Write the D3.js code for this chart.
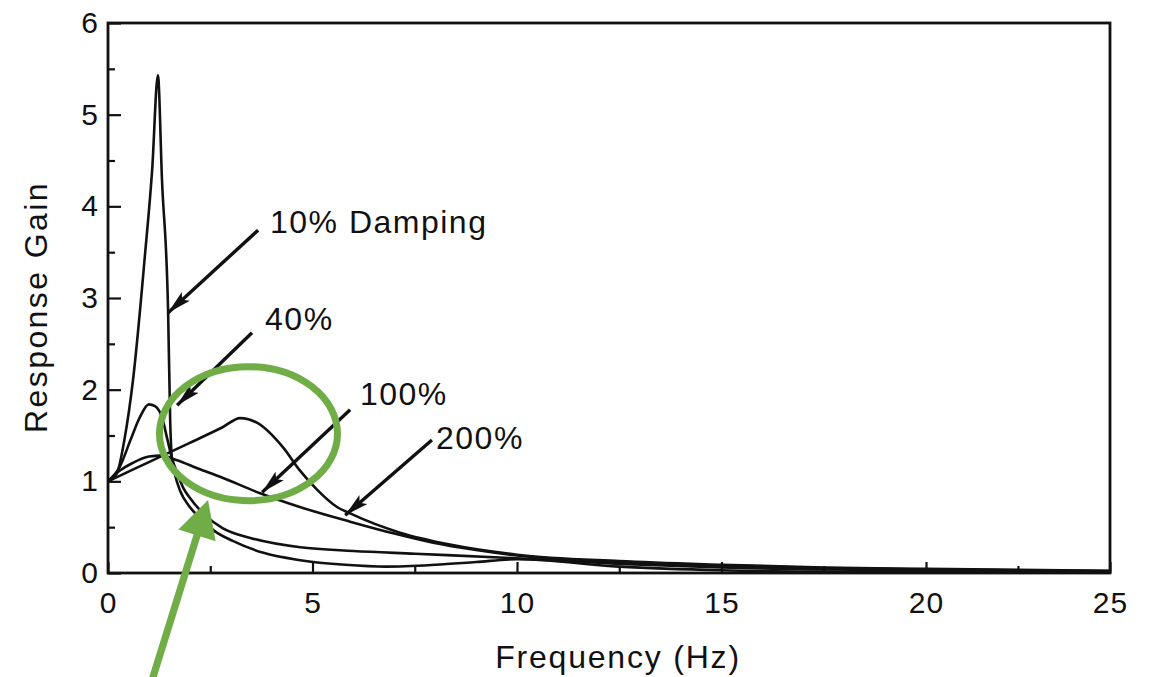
<!DOCTYPE html>
<html>
<head>
<meta charset="utf-8">
<script src="https://cdn.jsdelivr.net/npm/d3@7"></script>
<style>
  body { margin: 0; background: #fff; }
  svg { display: block; font-family: "Liberation Sans", Arial, Helvetica, sans-serif; }
  .axis path.domain { display: none; }
  .axis line { stroke: #111; stroke-width: 2.2; }
  .axis text { font-size: 30px; fill: #111; }
</style>
</head>
<body>
<svg width="1150" height="677"></svg>
<script>
// Response gain vs frequency, four damping levels

var freq10 = [0, 0.22, 0.4, 0.61, 0.9, 1.08, 1.22, 1.32, 1.47, 1.52, 1.56, 1.64, 1.76, 2.0, 2.25, 2.6, 3.05, 3.8, 4.7, 5.8, 6.8, 8.0, 9.0, 10, 12.5, 15, 17.5, 20, 25];
var gain10 = [1.0, 1.09, 1.45, 2.1, 3.45, 4.4, 5.43, 4.29, 2.84, 1.67, 1.26, 1.07, 0.9, 0.72, 0.6, 0.46, 0.35, 0.22, 0.14, 0.09, 0.07, 0.09, 0.12, 0.15, 0.07, 0.03, 0.015, 0.01, 0.005];

var freq40 = [0, 0.29, 0.55, 0.78, 1.0, 1.15, 1.34, 1.44, 1.56, 1.7, 1.85, 2.0, 2.4, 2.8, 3.5, 4.7, 6.0, 7.5, 10, 12.5, 15, 20, 25];
var gain40 = [1.0, 1.16, 1.45, 1.7, 1.84, 1.82, 1.67, 1.48, 1.26, 1.08, 0.92, 0.82, 0.62, 0.49, 0.38, 0.28, 0.24, 0.21, 0.16, 0.1, 0.06, 0.03, 0.01];

var freq100 = [0, 0.3, 0.6, 1.0, 1.3, 1.69, 2.2, 2.74, 3.72, 4.69, 5.92, 7.0, 7.95, 9.0, 10, 12.5, 15, 17.5, 20, 25];
var gain100 = [1.0, 1.12, 1.2, 1.27, 1.28, 1.23, 1.14, 1.05, 0.87, 0.72, 0.56, 0.43, 0.33, 0.25, 0.19, 0.12, 0.08, 0.055, 0.04, 0.02];

var freq200 = [0, 1.0, 2.0, 2.8, 3.23, 3.64, 4.28, 4.69, 5.11, 5.6, 5.92, 7.14, 8.36, 10, 12.5, 15, 17.5, 20, 25];
var gain200 = [1.0, 1.21, 1.42, 1.59, 1.69, 1.64, 1.37, 1.12, 0.91, 0.72, 0.65, 0.44, 0.31, 0.2, 0.13, 0.09, 0.06, 0.045, 0.025];

var xTicks = [0, 5, 10, 15, 20, 25];
var xMinorTicks = [2.5, 7.5, 12.5, 17.5, 22.5];
var yTicks = [0, 1, 2, 3, 4, 5, 6];
var yMinorTicks = [0.5, 1.5, 2.5, 3.5, 4.5, 5.5];

// annotation labels, arrow tails / tips and label anchors in (Hz, gain)
var annoLabels = ["10% Damping", "40%", "100%", "200%"];
var annoTails = [[3.67, 3.74], [3.52, 2.62], [5.92, 1.78], [7.92, 1.45]];
var annoTips = [[1.47, 2.84], [1.69, 1.83], [3.77, 0.88], [5.8, 0.63]];
var annoText = [[3.96, 3.71], [3.84, 2.65], [6.16, 1.83], [8.02, 1.35]];

var svgWidth = 1150, svgHeight = 677;

var svg = d3.select("svg");
svg.append("rect").attr("width", svgWidth).attr("height", svgHeight).attr("fill", "#fff");

// the printed axis is a little squeezed between 20 and 25 Hz
var xScale = d3.scaleLinear().domain([0, 20, 25]).range([108, 926, 1110]);
var yScale = d3.scaleLinear().domain([0, 6]).range([573, 23]);

// minor ticks
svg.append("g").attr("class", "axis")
   .attr("transform", "translate(0," + yScale(0) + ")")
   .call(d3.axisBottom(xScale).tickValues(xMinorTicks).tickSize(-7).tickFormat(""));
svg.append("g").attr("class", "axis")
   .attr("transform", "translate(" + xScale(0) + ",0)")
   .call(d3.axisLeft(yScale).tickValues(yMinorTicks).tickSize(-7).tickFormat(""));

// major ticks
svg.append("g").attr("class", "axis")
   .attr("transform", "translate(0," + yScale(0) + ")")
   .call(d3.axisBottom(xScale).tickValues(xTicks).tickSize(-11).tickPadding(19).tickFormat(d3.format("d")))
   .selectAll("text").attr("letter-spacing", 1);
svg.append("g").attr("class", "axis")
   .attr("transform", "translate(" + xScale(0) + ",0)")
   .call(d3.axisLeft(yScale).tickValues(yTicks).tickSize(-13).tickPadding(10).tickFormat(d3.format("d")));

// frame
svg.append("rect")
   .attr("x", xScale(0))
   .attr("y", yScale(6))
   .attr("width", xScale(25) - xScale(0))
   .attr("height", yScale(0) - yScale(6))
   .attr("fill", "none")
   .attr("stroke", "#111")
   .attr("stroke-width", 2.8);

// curves
var series = [
   d3.zip(freq10, gain10),
   d3.zip(freq40, gain40),
   d3.zip(freq100, gain100),
   d3.zip(freq200, gain200)
];

var line = d3.line()
   .x(function(d) { return xScale(d[0]); })
   .y(function(d) { return yScale(d[1]); })
   .curve(d3.curveMonotoneX);

svg.append("g")
   .selectAll("path")
   .data(series)
   .enter()
   .append("path")
   .attr("d", line)
   .attr("fill", "none")
   .attr("stroke", "#111")
   .attr("stroke-width", 2.6)
   .attr("stroke-linejoin", "round");

// arrows + labels
svg.append("defs").append("marker")
   .attr("id", "head")
   .attr("viewBox", "-24 -6 24 12")
   .attr("refX", 0).attr("refY", 0)
   .attr("markerWidth", 24).attr("markerHeight", 12)
   .attr("markerUnits", "userSpaceOnUse")
   .attr("orient", "auto")
   .append("path")
   .attr("d", "M0,0 L-24,-6 L-19,0 L-24,6 Z")
   .attr("fill", "#111");

var anno = svg.append("g");
annoLabels.forEach(function(label, i) {
   anno.append("line")
      .attr("x1", xScale(annoTails[i][0])).attr("y1", yScale(annoTails[i][1]))
      .attr("x2", xScale(annoTips[i][0])).attr("y2", yScale(annoTips[i][1]))
      .attr("stroke", "#111")
      .attr("stroke-width", 3.4)
      .attr("marker-end", "url(#head)");
   anno.append("text")
      .attr("x", xScale(annoText[i][0]))
      .attr("y", yScale(annoText[i][1]))
      .attr("font-size", 32)
      .attr("letter-spacing", 1.5)
      .attr("fill", "#111")
      .text(label);
});

// axis titles
svg.append("text")
   .attr("x", 618).attr("y", 668)
   .attr("text-anchor", "middle")
   .attr("font-size", 32)
   .attr("letter-spacing", 1.8)
   .attr("fill", "#111")
   .text("Frequency (Hz)");

svg.append("text")
   .attr("transform", "translate(47,307) rotate(-90)")
   .attr("text-anchor", "middle")
   .attr("font-size", 32)
   .attr("letter-spacing", 2.4)
   .attr("fill", "#111")
   .text("Response Gain");

// green highlight: ellipse + arrow
var green = "#70ad47";
svg.append("ellipse")
   .attr("cx", xScale(3.435)).attr("cy", yScale(1.52))
   .attr("rx", 89).attr("ry", 67)
   .attr("fill", "none")
   .attr("stroke", green)
   .attr("stroke-width", 7);

var tip = [xScale(2.445), yScale(0.796)];
var tail = [xScale(1.076), yScale(-1.17)];
var dx = tip[0] - tail[0], dy = tip[1] - tail[1];
var len = Math.sqrt(dx * dx + dy * dy);
var ux = dx / len, uy = dy / len, nx = -uy, ny = ux;
var headLen = 37, headHalf = 19.5, shaftHalf = 3.6;
var bx = tip[0] - ux * headLen, by = tip[1] - uy * headLen;
var pts = [
   [tail[0] + nx * shaftHalf, tail[1] + ny * shaftHalf],
   [bx + nx * shaftHalf, by + ny * shaftHalf],
   [bx + nx * headHalf, by + ny * headHalf],
   tip,
   [bx - nx * headHalf, by - ny * headHalf],
   [bx - nx * shaftHalf, by - ny * shaftHalf],
   [tail[0] - nx * shaftHalf, tail[1] - ny * shaftHalf]
];
svg.append("path")
   .attr("d", "M" + pts.map(function(p) { return p.join(","); }).join("L") + "Z")
   .attr("fill", green);
</script>
</body>
</html>
